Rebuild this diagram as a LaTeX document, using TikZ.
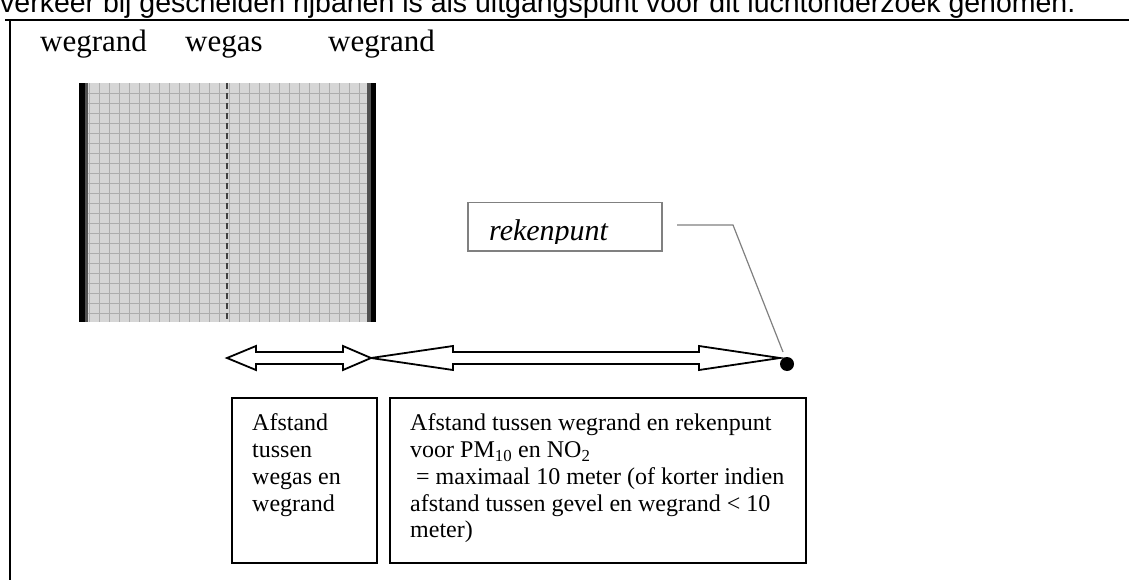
\documentclass[tikz,border=0pt]{standalone}
\usepackage{fontspec}
\setmainfont{Liberation Serif}
\newfontfamily\arialfont{Liberation Sans}
\usetikzlibrary{calc}
\definecolor{roadfill}{HTML}{D6D6D6}
\definecolor{gridgray}{HTML}{ADADAD}
\definecolor{edgegray}{HTML}{505050}
\definecolor{dashgray}{HTML}{404040}
\definecolor{boxgray}{HTML}{808080}
\definecolor{leadgray}{HTML}{808080}
\begin{document}
\begin{tikzpicture}[x=1pt,y=-1pt,
  frameline/.style={line width=1.5pt, black},
  gridline/.style={gridgray, line width=0.8pt},
  textbox/.style={draw=black, line width=2pt, inner sep=0pt, anchor=north west},
  graybox/.style={draw=boxgray, line width=1.5pt, inner sep=0pt, anchor=north west},
  blockarrow/.style={draw=black, line width=1.8pt, fill=white, line join=miter},
  lbl/.style={inner sep=0pt, anchor=base west, font=\fontsize{31}{34}\selectfont},
  para/.style={inner sep=0pt, anchor=north west, align=left, font=\fontsize{24}{26.8}\selectfont},
  leader/.style={draw=leadgray, line width=1.2pt}]
\useasboundingbox (0,0) rectangle (1129,580);
\clip (0,0) rectangle (1129,580);
% heading (cut at top)
\node[anchor=base west, inner sep=0pt] (head) at (0,13) {\resizebox{1075pt}{!}{\arialfont verkeer bij gescheiden rijbanen is als uitgangspunt voor dit luchtonderzoek genomen.}};
% frame
\draw[frameline] (5,20) -- (1129,20);
\draw[frameline] (10,20) -- (10,580);
% labels
\node[lbl] (wr1) at (40,52) {wegrand};
\node[lbl] (wg) at (185,52) {wegas};
\node[lbl] (wr2) at (328,52) {wegrand};
% road
\fill[roadfill] (79,83) rectangle (376,322);
\foreach \x in {89,99,...,369} \draw[gridline] (\x,83) -- (\x,322);
\foreach \y in {93,103,...,313} \draw[gridline] (79,\y) -- (376,\y);
\fill[black] (79,83) rectangle (85,322);
\fill[edgegray] (85,83) rectangle (88,322);
\fill[edgegray] (367,83) rectangle (371,322);
\fill[black] (371,83) rectangle (376,322);
\draw[dash pattern=on 6pt off 4pt, line width=2pt, dashgray] (227,83) -- (227,322);
% arrows
\coordinate (s1) at (227,358);
\coordinate (s2) at (371,358);
\coordinate (b2) at (780,358);
\draw[blockarrow] (s2) -- ++(82,-12) -- ++(0,6) -- ($(b2)+(-81,-6)$) -- ++(0,-6) -- (b2) -- ++(-81,12) -- ++(0,-6) -- ($(s2)+(82,6)$) -- ++(0,6) -- cycle;
\draw[blockarrow] (s1) -- ++(29,-12) -- ++(0,6) -- ($(s2)+(-28,-6)$) -- ++(0,-6) -- (s2) -- ++(-28,12) -- ++(0,-6) -- ($(s1)+(29,6)$) -- ++(0,6) -- cycle;
% calculation point
\node[circle, fill=black, minimum size=14pt, inner sep=0pt] (rp) at (787,364) {};
\node[graybox, minimum width=194pt, minimum height=48pt] (rbox) at (467,202) {};
\begin{scope}
\clip (467,202) rectangle (661,243);
\node[anchor=base west, inner sep=0pt, font=\itshape\fontsize{30}{30}\selectfont] (rtext) at (489,240) {rekenpunt};
\end{scope}
\coordinate (l1) at (677,225);
\coordinate (l2) at (733,225);
\coordinate (l3) at (783,352);
\draw[leader] (l1) -- (l2) -- (l3);
% text boxes
\node[textbox, minimum width=145pt, minimum height=165pt] (lbox) at (231,397) {};
\node[para] (ltext) at (252,413.6) {Afstand\\tussen\\wegas en\\wegrand};
\node[textbox, minimum width=416pt, minimum height=165pt] (rbox2) at (389,397) {};
\node[para] (rtext2) at (410,413.6) {Afstand tussen wegrand en rekenpunt\\voor PM\textsubscript{10} en NO\textsubscript{2}\\\hspace*{0.25em}= maximaal 10 meter (of korter indien\\afstand tussen gevel en wegrand < 10\\meter)};
\end{tikzpicture}
\end{document}
